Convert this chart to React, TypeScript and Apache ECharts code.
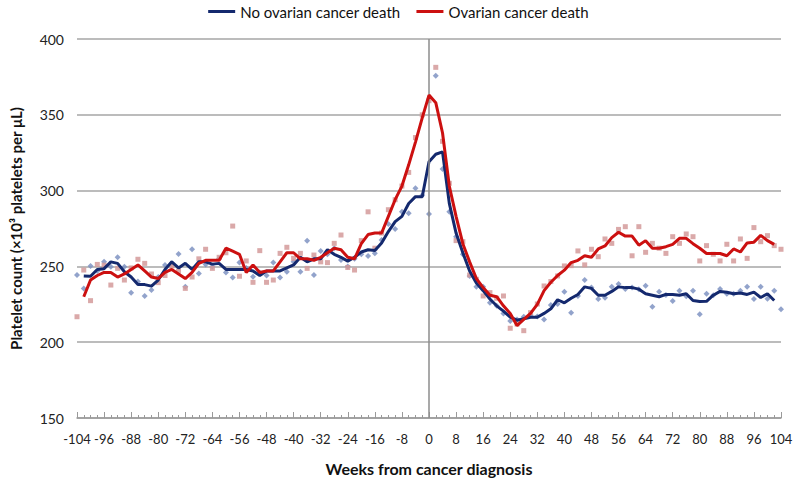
import React, { useEffect, useRef } from "react";
import * as echarts from "echarts";

// Weeks from cancer diagnosis (every 2 weeks)
const weeks: number[] = Array.from({ length: 105 }, (_, i) => -104 + 2 * i);

const xTicks = { min: -104, max: 104, interval: 8 };
const yTicks = { min: 150, max: 400, interval: 50 };

// Moving-average lines (null where no value)
const noDeathLine: (number | null)[] = [
  null, 243.7, 243.5, 248, 248.5, 253, 252, 246.5, 243, 238, 238, 237, 241, 248, 253, 249, 252, 248, 253, 253,
  251.5, 252, 248, 248, 248, 248, 247, 244, 247, 247, 247, 249, 251, 256, 253, 255, 255, 261, 258, 256,
  253.5, 256, 259.5, 261, 260.5, 265.5, 273, 279.5, 283, 291.5, 296, 296, 319, 324, 325.5, 291.6, 272, 259, 247, 239,
  234, 228.5, 224, 220.5, 216.5, 214.5, 215.5, 216.5, 216.5, 219, 222, 228, 226, 229, 231.5, 236.5, 235.5, 231, 231, 233.5,
  236.5, 236, 236, 235, 232, 231, 230, 231.5, 231.5, 231, 232, 227.5, 226.8, 227, 231, 233.5, 233, 232, 232.5, 231.5,
  233, 229.5, 232, 227.5, null,
];

const deathLine: (number | null)[] = [
  null, 230, 241, 244, 246, 246, 243, 245, 248, 251, 247, 243, 242, 246, 248, 245, 242, 246, 252, 254,
  254, 254, 262, 260, 258, 246, 251, 246, 247, 247, 253, 259, 259, 255, 255, 254, 256, 259, 262, 261,
  256, 255, 265, 271, 272, 272, 283, 294, 303, 317, 332, 348, 363, 358, 338, 303, 283, 265, 253, 242,
  236, 231, 230, 224, 219, 211, 215, 219, 225, 234, 239.5, 244, 247.5, 252.5, 254, 257, 256, 261.5, 263.5, 269,
  272.5, 270, 270, 264, 267, 262, 262, 263, 264.5, 268.5, 268.5, 265, 262, 258.5, 258.5, 258.5, 257, 261.5, 259.5, 265.5,
  266, 270.5, 267, 264.5, null,
];

// Individual weekly values (scatter)
const noDeathPoints: number[] = [
  244.3, 235.5, 250.3, 247, 253.1, 249.8, 256, 249.8, 232.7, 240, 230.5, 234.4, 243, 251, 252, 258.2, 236.6, 261.3, 245.3, 251.3,
  250, 255, 246, 242.6, 252.5, 249, 243.2, 246, 244, 252.5, 242.6, 246.5, 253, 246.5, 267, 244.3, 260.2, 258, 262, 254.2,
  250, 255, 258, 256.9, 258.6, 267.4, 278, 274.7, 286, 285, 301.5, 297, 284.6, 375.8, 314.2, 286, 269.6, 258, 243.7, 236.6,
  236.6, 226.1, 224, 219, 214, 215, 216.8, 218, 217, 215, 224.5, 225.2, 233.3, 219.5, 230.5, 241, 236, 228.5, 229.4, 236.6,
  238.4, 235.1, 236, 235, 237.3, 223.4, 233.3, 231.1, 227.2, 233.9, 230.3, 233.9, 218.4, 232, 231, 235.1, 232, 232, 234, 236.6,
  228.5, 236.6, 228.7, 233.9, 221.7,
];

const deathPoints: number[] = [
  216.8, 247.6, 227.4, 251.3, 250.8, 237.7, 248.7, 241, 249, 254.7, 252, 245, 239.3, 244, 250.3, 247, 235.5, 243, 255, 261.3,
  248.7, 256, 259, 276.6, 243.5, 253.6, 239.5, 260.4, 239.5, 241, 258.6, 262.6, 255.3, 258.6, 248.7, 257.5, 253, 252.5, 265.2, 270.7,
  249.3, 247.6, 267, 286, 262, 272, 287.4, 294, 303, 312, 335, 350, 359.3, 381.3, 332.5, 304.8, 267, 266.3, 244.3, 241.5,
  230.5, 232.7, 229, 230.5, 209.2, 212, 207.6, 219.5, 225.2, 237.1, 240, 243.7, 250.3, 250.5, 260.2, 251, 261.3, 256.4, 268.1, 265.2,
  274.4, 276.2, 257, 276.2, 259.3, 265.2, 262, 258.6, 269.6, 265.2, 271.4, 269.6, 253.6, 263.7, 258, 253.6, 264.6, 253.6, 268.1, 255.3,
  275.6, 266.3, 270.3, 263.7, 261.3,
];

const seriesNames = ["No ovarian cancer death", "Ovarian cancer death"];
const axisTitles = { x: "Weeks from cancer diagnosis", y: "Platelet count (×10³ platelets per μL)" };

const pairs = (vals: (number | null)[]) =>
  weeks.map((w, i) => [w, vals[i]]).filter((p) => p[1] !== null && p[1] !== undefined);

const FONT = "Lato, 'Open Sans', sans-serif";

export default function App() {
  const ref = useRef<HTMLDivElement>(null);
  useEffect(() => {
    document.body.style.margin = "0";
    if (!ref.current) return;
    const chart = echarts.init(ref.current, null, { renderer: "svg" });
    chart.setOption({
      animation: false,
      backgroundColor: "#ffffff",
      textStyle: { fontFamily: FONT },
      legend: {
        data: seriesNames,
        top: -1,
        left: "center",
        icon: "rect",
        itemWidth: 27,
        itemHeight: 3,
        itemGap: 16,
        textStyle: { fontFamily: FONT, fontSize: 15, color: "#111" },
      },
      grid: { left: 68, right: 16, top: 39, bottom: 64, containLabel: false },
      xAxis: {
        type: "value",
        min: xTicks.min,
        max: xTicks.max,
        interval: xTicks.interval,
        name: axisTitles.x,
        nameLocation: "middle",
        nameGap: 42,
        nameTextStyle: { fontFamily: FONT, fontSize: 16, fontWeight: "bold", color: "#111" },
        axisLine: { show: true, lineStyle: { color: "#9a9a9a", width: 1.5 } },
        axisTick: { show: true, inside: true, length: 6, lineStyle: { color: "#9a9a9a" } },
        minorTick: { show: true, splitNumber: 4, length: 3, lineStyle: { color: "#9a9a9a" } },
        splitLine: { show: false },
        axisLabel: { fontFamily: FONT, fontSize: 13, color: "#222", margin: 14 },
      },
      yAxis: {
        type: "value",
        min: yTicks.min,
        max: yTicks.max,
        interval: yTicks.interval,
        name: axisTitles.y,
        nameLocation: "middle",
        nameGap: 54,
        nameTextStyle: { fontFamily: FONT, fontSize: 15, fontWeight: "bold", color: "#111" },
        axisLine: { show: false },
        axisTick: { show: false },
        splitLine: { show: true, lineStyle: { color: "#a6a6a6", width: 1.5 } },
        axisLabel: { fontFamily: FONT, fontSize: 14, color: "#222", margin: 13 },
      },
      series: [
        {
          name: "No death points",
          type: "scatter",
          data: pairs(noDeathPoints),
          symbol: "diamond",
          symbolSize: 6,
          itemStyle: { color: "#7f93c2", opacity: 0.85 },
          z: 2,
        },
        {
          name: "Death points",
          type: "scatter",
          data: pairs(deathPoints),
          symbol: "rect",
          symbolSize: 5,
          itemStyle: { color: "#d49a9a", opacity: 0.85 },
          z: 2,
        },
        {
          name: seriesNames[0],
          type: "line",
          data: pairs(noDeathLine),
          showSymbol: false,
          lineStyle: { color: "#14296e", width: 3 },
          itemStyle: { color: "#14296e" },
          z: 4,
          markLine: {
            silent: true,
            symbol: "none",
            label: { show: false },
            lineStyle: { color: "#8c8c8c", width: 1.5, type: "solid" },
            data: [{ xAxis: 0 }],
          },
        },
        {
          name: seriesNames[1],
          type: "line",
          data: pairs(deathLine),
          showSymbol: false,
          lineStyle: { color: "#cc1010", width: 3 },
          itemStyle: { color: "#cc1010" },
          z: 5,
        },
      ],
    });
    return () => chart.dispose();
  }, []);
  return <div ref={ref} style={{ width: 797, height: 482 }} />;
}
